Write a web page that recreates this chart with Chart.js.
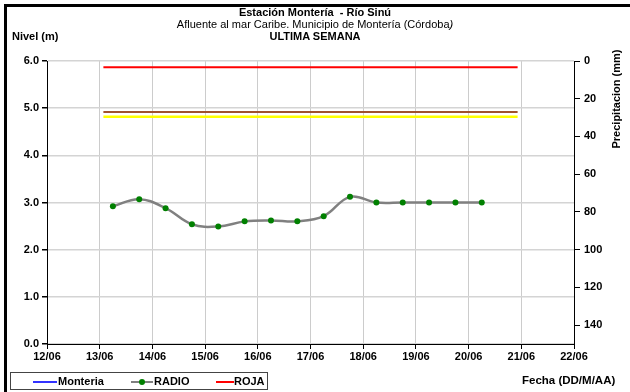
<!DOCTYPE html>
<html>
<head>
<meta charset="utf-8">
<script src="https://cdn.jsdelivr.net/npm/chart.js@4.4.1/dist/chart.umd.min.js"></script>
<style>
body{margin:0;background:#fff;font-family:"Liberation Sans",Arial,sans-serif;}
#wrap{position:relative;width:630px;height:392px;overflow:hidden;}
#frame{position:absolute;left:4px;top:4px;width:700px;height:500px;border:3px solid #000;box-sizing:border-box;}
canvas{position:absolute;left:0;top:0;}
.t{position:absolute;font-size:11px;color:#000;white-space:nowrap;}
.b{font-weight:bold;}
#legend{position:absolute;left:10px;top:372px;width:258px;height:18px;border:1px solid #444;box-sizing:border-box;}
.li{position:absolute;top:2px;font-size:11px;font-weight:bold;}
.ln{position:absolute;top:8px;height:2px;}
</style>
</head>
<body>
<div id="wrap">
<div id="frame"></div>
<canvas id="chart" width="630" height="392"></canvas>
<div class="t b" style="left:0;width:630px;text-align:center;top:6px;">Estación Montería&nbsp; - Río Sinú</div>
<div class="t" style="left:0;width:630px;text-align:center;top:18px;">Afluente al mar Caribe. Municipio de Montería (Córdoba<i>)</i></div>
<div class="t b" style="left:0;width:630px;text-align:center;top:30px;">ULTIMA SEMANA</div>
<div class="t b" style="left:12px;top:30px;">Nivel (m)</div>
<div class="t b" style="left:566px;top:93px;width:100px;text-align:center;transform:rotate(-90deg);">Precipitacion (mm)</div>
<div class="t b" style="left:522px;top:374px;font-size:11.5px;">Fecha (DD/M/AA)</div>
<div id="legend">
  <div class="ln" style="left:22px;width:24px;background:#3333ff;"></div>
  <div class="li" style="left:47px;">Monteria</div>
  <div class="ln" style="left:120px;width:22px;background:#808080;"></div>
  <div style="position:absolute;left:128px;top:6px;width:6px;height:6px;border-radius:3px;background:#008000;"></div>
  <div class="li" style="left:143px;">RADIO</div>
  <div class="ln" style="left:205px;width:18px;background:#ff0000;"></div>
  <div class="li" style="left:223px;">ROJA</div>
</div>
</div>
<script>
// x axis: days after 12/06
const dayLabels = ["12/06","13/06","14/06","15/06","16/06","17/06","18/06","19/06","20/06","21/06","22/06"];

// RADIO readings (every 12 h from 13/06 06:00)
const radioDays = [1.25,1.75,2.25,2.75,3.25,3.75,4.25,4.75,5.25,5.75,6.25,6.75,7.25,7.75,8.25];
const radioLevels = [2.92,3.07,2.88,2.54,2.49,2.60,2.62,2.60,2.71,3.12,3.00,3.00,3.00,3.00,3.00];

// threshold lines
const lineDays = [1.07,8.93];
const rojaLevel = 5.87;
const brownLevel = 4.92;
const yellowLevel = 4.82;

const ctx = document.getElementById("chart").getContext("2d");

const tickFont = {family:"Liberation Sans", size:11, weight:"bold"};

function flat(level){
return lineDays.map(d => ({x:d, y:level}));
}

new Chart(ctx,{
type:"line",
data:{
datasets:[
{label:"ROJA", data:flat(rojaLevel), borderColor:"#ff0000", borderWidth:2, pointRadius:0, yAxisID:"y"},
{label:"brown", data:flat(brownLevel), borderColor:"#a0522d", borderWidth:2, pointRadius:0, yAxisID:"y"},
{label:"yellow", data:flat(yellowLevel), borderColor:"#ffff00", borderWidth:2.5, pointRadius:0, yAxisID:"y"},
{label:"RADIO", data:radioDays.map((d,i) => ({x:d, y:radioLevels[i]})),
 borderColor:"#808080", borderWidth:2.5, tension:0.4, cubicInterpolationMode:"default",
 pointRadius:3, pointBackgroundColor:"#008000", pointBorderColor:"#008000", pointBorderWidth:0, yAxisID:"y"},
{label:"Monteria", data:[], borderColor:"#3333ff", yAxisID:"y"}
]
},
options:{
responsive:false,
animation:false,
layout:{padding:{left:0, right:0, top:61, bottom:28}},
plugins:{legend:{display:false}, title:{display:false}, tooltip:{enabled:false}},
scales:{
x:{
type:"linear", min:0, max:10,
afterFit: s => { s.height = 20; },
grid:{color:"#cccccc", lineWidth:1, tickColor:"#000", tickLength:5},
border:{color:"#000", width:1},
ticks:{stepSize:1, font:tickFont, color:"#000", padding:1, maxRotation:0,
  callback: v => dayLabels[v]}
},
y:{
position:"left", min:0, max:6,
afterFit: s => { s.width = 47; },
grid:{color:"#d4d4d4", lineWidth:1.5, tickColor:"#000", tickLength:5},
border:{color:"#000", width:1},
ticks:{stepSize:1, font:tickFont, color:"#000", padding:3,
  callback: v => v.toFixed(1)}
},
y2:{
position:"right", min:0, max:150, reverse:true,
afterFit: s => { s.width = 56; },
grid:{drawOnChartArea:false, tickColor:"#000", tickLength:6},
border:{color:"#000", width:1},
ticks:{stepSize:20, includeBounds:false, font:tickFont, color:"#000", padding:4}
}
}
}
});
</script>
</body>
</html>
